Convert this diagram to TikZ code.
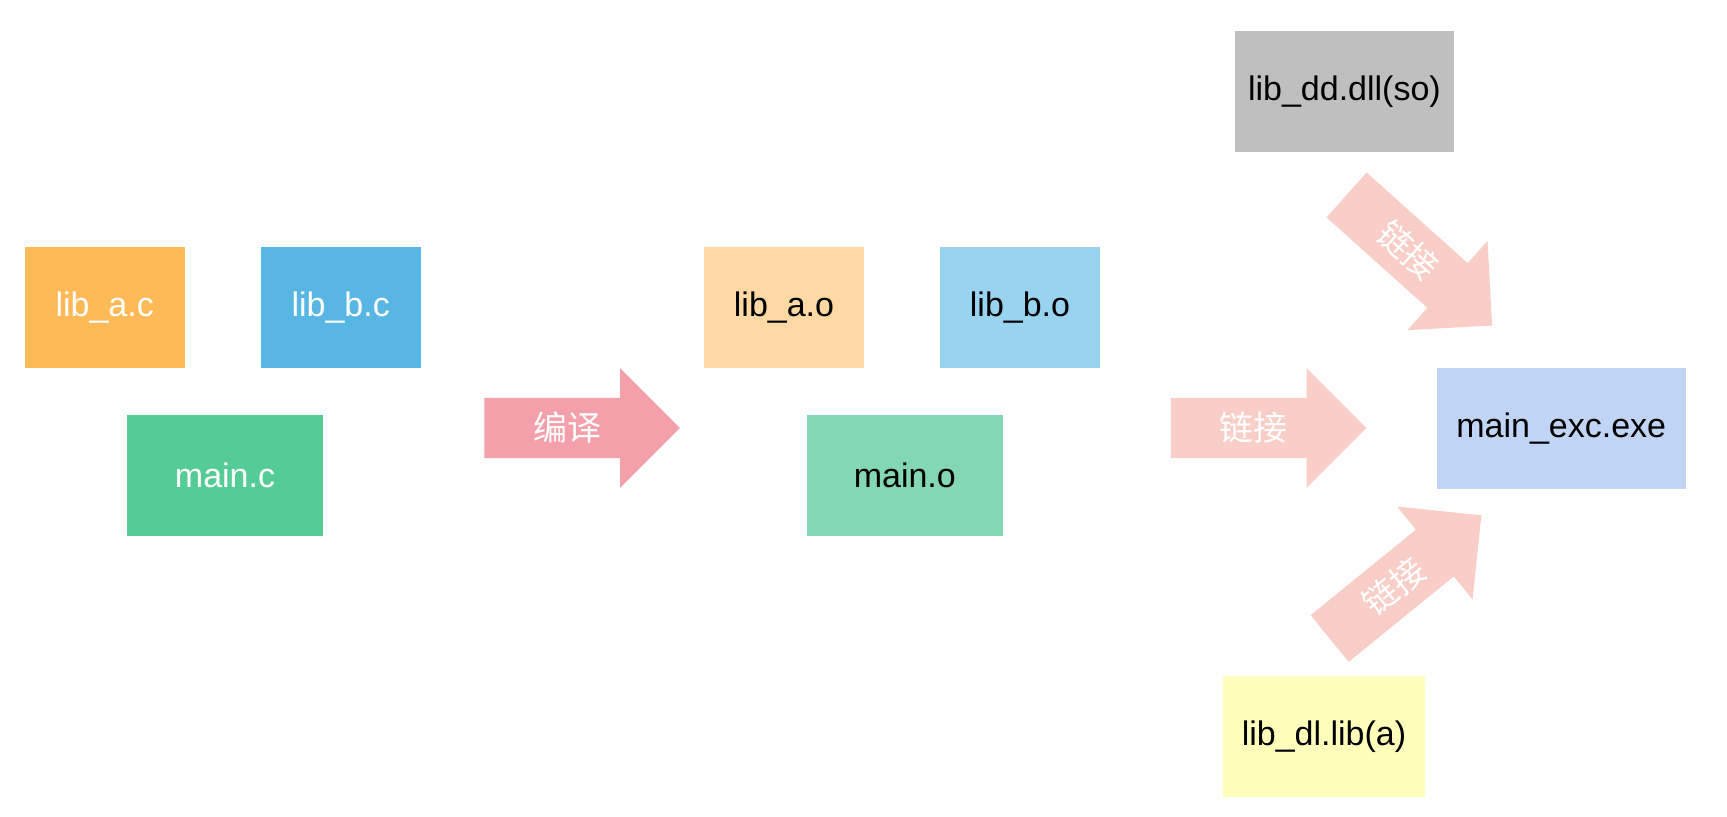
\documentclass[tikz,border=0pt]{standalone}
\usepackage{fontspec}
\setmainfont{Liberation Sans}
\newfontfamily\cjk{Noto Sans CJK SC}
\usepackage{tikz}
\usetikzlibrary{shapes.arrows}

\definecolor{srcorange}{HTML}{FFB957}
\definecolor{srcblue}{HTML}{57B6E3}
\definecolor{srcgreen}{HTML}{55CB95}
\definecolor{objorange}{HTML}{FED9A3}
\definecolor{objblue}{HTML}{98D3EF}
\definecolor{objgreen}{HTML}{83D7B2}
\definecolor{exeblue}{HTML}{C0D5F5}
\definecolor{dllgray}{HTML}{BFBFBF}
\definecolor{libyellow}{HTML}{FFFFBB}
\definecolor{compilepink}{HTML}{F4A0AB}
\definecolor{linkpink}{HTML}{F9CEC6}

\newcommand{\boxfont}{\fontsize{17}{20}\selectfont}

\tikzset{
  filebox/.style={rectangle, inner sep=0pt, minimum height=60.5pt, font=\boxfont},
  blockarrow/.style={single arrow, anchor=tail, inner xsep=2pt, inner ysep=0pt,
    text height=21.35pt, text depth=8.35pt, minimum height=97.75pt,
    single arrow head extend=14.9pt, single arrow tip angle=90,
    text=white, font=\boxfont\cjk}
}

\begin{document}
\begin{tikzpicture}[x=0.5pt,y=-0.5pt]
\useasboundingbox (0,0) rectangle (1727,817);

% source files
\node [filebox, fill=srcorange, text=white, minimum width=80pt] (libac) at (104.7,307.5) {lib\_a.c};
\node [filebox, fill=srcblue, text=white, minimum width=80pt] (libbc) at (340.7,307.5) {lib\_b.c};
\node [filebox, fill=srcgreen, text=white, minimum width=97.8pt] (mainc) at (225,475.7) {main.c};

% object files
\node [filebox, fill=objorange, minimum width=80pt] (libao) at (784,307.5) {lib\_a.o};
\node [filebox, fill=objblue, minimum width=80pt] (libbo) at (1020,307.5) {lib\_b.o};
\node [filebox, fill=objgreen, minimum width=97.8pt] (maino) at (904.8,475.7) {main.o};

% libraries and result
\node [filebox, fill=dllgray, minimum width=109.4pt] (libdd) at (1344.4,91.8) {lib\_dd.dll(so)};
\node [filebox, fill=libyellow, minimum width=101pt] (libdl) at (1324,736.2) {lib\_dl.lib(a)};
\node [filebox, fill=exeblue, minimum width=124.5pt] (mainexe) at (1561.2,428.5) {main\_exc.exe};

% steps
\node [blockarrow, fill=compilepink] (compile) at (484,428) {编译};
\node [blockarrow, fill=linkpink] (linkmid) at (1170.5,428) {链接};
\node [blockarrow, fill=linkpink, rotate=-41.9] (linkup) at (1346.3,194.7) {链接};
\node [blockarrow, fill=linkpink, rotate=39.1] (linkdown) at (1329.3,638.8) {链接};
\end{tikzpicture}
\end{document}
